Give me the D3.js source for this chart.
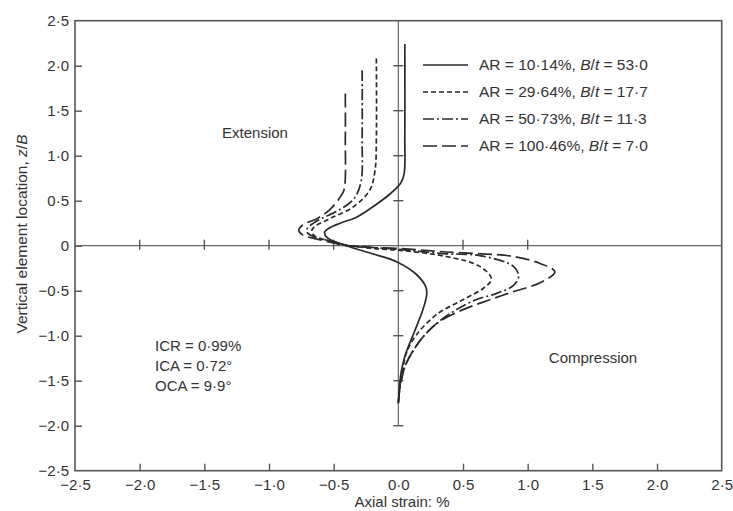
<!DOCTYPE html>
<html><head><meta charset="utf-8">
<script src="https://cdn.jsdelivr.net/npm/d3@7"></script>
<style>
body{margin:0;background:#fff;}
text{font-family:"Liberation Sans",Arial,sans-serif;fill:#333;}
</style></head>
<body><svg id="c" width="733" height="511"></svg>
<script>
// ---- data ----
const xTicks = [-2.5,-2.0,-1.5,-1.0,-0.5,0.0,0.5,1.0,1.5,2.0,2.5];
const xTickLabels = ["−2·5","−2·0","−1·5","−1·0","−0·5","0·0","0·5","1·0","1·5","2·0","2·5"];
const yTicks = [2.5,2.0,1.5,1.0,0.5,0,-0.5,-1.0,-1.5,-2.0,-2.5];
const yTickLabels = ["2·5","2·0","1·5","1·0","0·5","0","−0·5","−1·0","−1·5","−2·0","−2·5"];

const seriesNames = ["AR = 10·14%, |B/t| = 53·0","AR = 29·64%, |B/t| = 17·7","AR = 50·73%, |B/t| = 11·3","AR = 100·46%, |B/t| = 7·0"];

// series 1: AR = 10.14 %
const strain1 = [0.05,0.05,0.045,0.02,-0.06,-0.18,-0.32,-0.45,-0.53,-0.57,-0.55,-0.40,-0.20,-0.01,0.14,0.21,0.22,0.19,0.12,0.05,0.02,0.0];
const z1      = [2.24,1.20,0.80,0.70,0.58,0.45,0.32,0.25,0.20,0.15,0.09,0.00,-0.09,-0.18,-0.32,-0.45,-0.53,-0.71,-0.97,-1.23,-1.42,-1.75];
// series 2: AR = 29.64 %
const strain2 = [-0.17,-0.17,-0.18,-0.22,-0.35,-0.53,-0.65,-0.67,-0.64,-0.52,-0.42,-0.20,0.0,0.37,0.63,0.72,0.66,0.50,0.30,0.14,0.06,0.03,0.01,0.0];
const z2      = [2.08,1.20,0.84,0.62,0.43,0.30,0.21,0.16,0.10,0.05,0.01,-0.03,-0.05,-0.12,-0.23,-0.37,-0.47,-0.60,-0.76,-0.99,-1.20,-1.42,-1.58,-1.75];
// series 3: AR = 50.73 %
const strain3 = [-0.28,-0.28,-0.29,-0.35,-0.48,-0.61,-0.70,-0.71,-0.67,-0.55,-0.43,-0.20,0.0,0.37,0.63,0.89,0.93,0.89,0.76,0.60,0.45,0.30,0.17,0.06,0.03,0.01,0.0];
const z3      = [1.95,1.20,0.70,0.51,0.38,0.29,0.20,0.16,0.11,0.06,0.01,-0.02,-0.04,-0.09,-0.11,-0.23,-0.34,-0.44,-0.53,-0.60,-0.71,-0.86,-1.05,-1.31,-1.44,-1.60,-1.75];
// series 4: AR = 100.46 %
const strain4 = [-0.41,-0.41,-0.42,-0.45,-0.53,-0.63,-0.74,-0.77,-0.74,-0.62,-0.50,-0.40,-0.20,0.0,0.37,0.89,1.10,1.21,1.10,0.89,0.71,0.50,0.30,0.17,0.06,0.03,0.01,0.0];
const z4      = [1.69,1.20,0.62,0.54,0.40,0.30,0.23,0.17,0.12,0.07,0.03,0.00,-0.02,-0.03,-0.07,-0.12,-0.20,-0.29,-0.41,-0.51,-0.60,-0.71,-0.86,-1.05,-1.31,-1.45,-1.60,-1.75];

const allStrain = [strain1,strain2,strain3,strain4];
const allZ = [z1,z2,z3,z4];
const dashes = [null,"5,3","11,3,2,3","14,5"];

// ---- layout ----
const svg = d3.select("#c");
const x = d3.scaleLinear().domain([-2.5,2.5]).range([75,721.7]);
const y = d3.scaleLinear().domain([-2.5,2.5]).range([470.7,20.7]);
const ink = "#2a2a2a", frame = "#555";
const FONT = "Liberation Sans, Arial, sans-serif";

// frame
svg.append("rect").attr("x",x(-2.5)).attr("y",y(2.5)).attr("width",x(2.5)-x(-2.5)).attr("height",y(-2.5)-y(2.5))
  .attr("fill","none").attr("stroke",frame).attr("stroke-width",1.6);

// left axis (ticks inward)
const yAxis = d3.axisLeft(y).tickValues(yTicks).tickSize(-7).tickPadding(6)
  .tickFormat((d,i)=>yTickLabels[i]);
const gy = svg.append("g").attr("transform",`translate(${x(-2.5)},0)`).call(yAxis);
gy.select(".domain").remove();
gy.selectAll(".tick line").attr("stroke",frame).attr("stroke-width",1.4);
gy.selectAll(".tick text").attr("font-size","15px").attr("fill","#333").style("font-family",FONT);
gy.selectAll(".tick").filter(d=>Math.abs(d)===2.5).select("line").remove();

// bottom axis (ticks inward)
const xAxis = d3.axisBottom(x).tickValues(xTicks).tickSize(-7).tickPadding(6)
  .tickFormat((d,i)=>xTickLabels[i]);
const gx = svg.append("g").attr("transform",`translate(0,${y(-2.5)})`).call(xAxis);
gx.select(".domain").remove();
gx.selectAll(".tick line").attr("stroke",frame).attr("stroke-width",1.4);
gx.selectAll(".tick text").attr("font-size","15px").attr("fill","#333").attr("dy","0.9em").style("font-family",FONT);
gx.selectAll(".tick").filter(d=>Math.abs(d)===2.5 || d===0).select("line").remove();

// central axes
svg.append("line").attr("x1",x(-2.5)).attr("x2",x(2.5)).attr("y1",y(0)).attr("y2",y(0)).attr("stroke","#666").attr("stroke-width",1.2);
svg.append("line").attr("x1",x(0)).attr("x2",x(0)).attr("y1",y(2.5)).attr("y2",y(-2.0)).attr("stroke","#666").attr("stroke-width",1.2);
const hTicks = [-2.0,-1.5,-1.0,-0.5,0.5,1.0];
svg.selectAll(".ht").data(hTicks).enter().append("line")
  .attr("x1",d=>x(d)).attr("x2",d=>x(d)).attr("y1",y(0)-6).attr("y2",y(0)+4)
  .attr("stroke","#555").attr("stroke-width",1.4);
const vTicks = [2.0,1.5,1.0,0.5,-0.5,-1.0,-1.5,-2.0];
svg.selectAll(".vt").data(vTicks).enter().append("line")
  .attr("x1",x(0)-5).attr("x2",x(0)+5).attr("y1",d=>y(d)).attr("y2",d=>y(d))
  .attr("stroke","#555").attr("stroke-width",1.4);

// curves
const line = d3.line().x(d=>x(d[0])).y(d=>y(d[1])).curve(d3.curveCatmullRom.alpha(0.5));
allStrain.forEach((s,i)=>{
  const pts = s.map((v,j)=>[v,allZ[i][j]]);
  svg.append("path").attr("d",line(pts)).attr("fill","none").attr("stroke",ink)
    .attr("stroke-width",1.7).attr("stroke-dasharray",dashes[i]);
});

// legend
const legY = [65,92,119,146];
seriesNames.forEach((name,i)=>{
  svg.append("line").attr("x1",423).attr("x2",468).attr("y1",legY[i]).attr("y2",legY[i])
    .attr("stroke",ink).attr("stroke-width",1.7).attr("stroke-dasharray",dashes[i]);
  const parts = name.split("|");
  const t = svg.append("text").attr("x",479).attr("y",legY[i]).attr("dy","0.35em").attr("font-size","15.5px");
  t.append("tspan").text(parts[0]);
  const it = parts[1].split("/");
  t.append("tspan").attr("font-style","italic").text(it[0]);
  t.append("tspan").text("/");
  t.append("tspan").attr("font-style","italic").text(it[1]);
  t.append("tspan").text(parts[2]);
});

// annotations
svg.append("text").attr("x",255).attr("y",133).attr("dy","0.35em").attr("text-anchor","middle").attr("font-size","15px").text("Extension");
svg.append("text").attr("x",593).attr("y",358).attr("dy","0.35em").attr("text-anchor","middle").attr("font-size","15px").text("Compression");
["ICR = 0·99%","ICA = 0·72°","OCA = 9·9°"].forEach((s,i)=>{
  svg.append("text").attr("x",155).attr("y",346+i*20).attr("dy","0.35em").attr("font-size","15px").text(s);
});

// axis titles
svg.append("text").attr("x",402).attr("y",502).attr("dy","0.35em").attr("text-anchor","middle").attr("font-size","15px").text("Axial strain: %");
const yt = svg.append("text").attr("transform","translate(22,234) rotate(-90)").attr("text-anchor","middle").attr("dy","0.35em").attr("font-size","15.5px");
yt.append("tspan").text("Vertical element location, ");
yt.append("tspan").attr("font-style","italic").text("z");
yt.append("tspan").text("/");
yt.append("tspan").attr("font-style","italic").text("B");
</script></body></html>
